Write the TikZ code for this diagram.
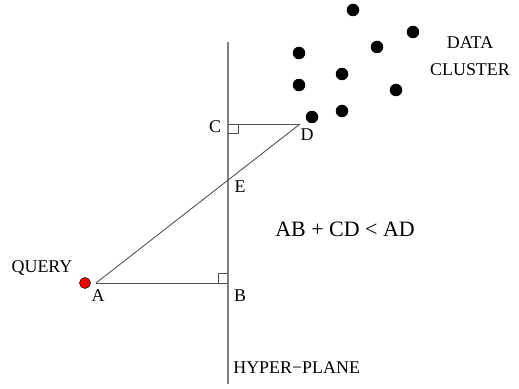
\documentclass[tikz,border=0pt]{standalone}
\usepackage{fontspec}
\setmainfont{Liberation Serif}
\usetikzlibrary{positioning,calc}
\definecolor{planegray}{HTML}{808080}
\definecolor{linegray}{HTML}{505050}

\begin{document}
\begin{tikzpicture}[x=0.02cm, y=-0.02cm,
  lbl/.style={inner sep=0pt, font=\fontsize{10.2}{12}\selectfont},
  pt/.style={circle, fill=black, inner sep=0pt, minimum size=12.5*0.02cm},
  seg/.style={linegray, line width=0.5pt}
]
  \useasboundingbox (0,0) rectangle (519,388);
  % hyper-plane
  \coordinate (top) at (228,42);
  \coordinate (bot) at (228,384);
  \draw[planegray, line width=0.7pt] (top) -- (bot);
  % points of the construction
  \coordinate (A) at (96,283);
  \coordinate (B) at (228,283);
  \coordinate (C) at (228,124);
  \coordinate (D) at (300,124);
  \coordinate (E) at (228,180);
  \draw[seg] (A) -- (B);
  \draw[seg] (C) -- (D);
  \draw[seg] (A) -- (D);
  % right angle marks
  \draw[seg] ($(C)+(0,9)$) -- ++(10,0) -- ++(0,-9);
  \draw[seg] ($(B)+(-10,0)$) -- ++(0,-10) -- ++(10,0);
  % query point
  \node[circle, fill=red, draw=black, line width=0.3pt, inner sep=0pt, minimum size=11*0.02cm] (q) at (85,283) {};
  % data cluster
  \foreach \px/\py [count=\i] in {353/10, 413/32, 377/47, 299/53, 342/74, 299/85, 396/90, 342/111, 312/117}
    \node[pt] (d\i) at (\px,\py) {};
  % labels
  \node[lbl] (la) at (98,296) {A};
  \node[lbl] (lb) at (240,296) {B};
  \node[lbl] (lc) at (215,127) {C};
  \node[lbl] (ld) at (307,135) {D};
  \node[lbl] (le) at (240,187) {E};
  \node[lbl] (query) at (42,268) {QUERY};
  \node[lbl] (data) at (470,43) {DATA};
  \node[lbl] (cluster) at (470,70) {CLUSTER};
  \node[lbl, anchor=west] (plane) at (233,368) {HYPER−PLANE};
  \node[inner sep=0pt, font=\fontsize{12.5}{15}\selectfont] (rel) at (345,229) {AB + CD < AD};
\end{tikzpicture}
\end{document}
